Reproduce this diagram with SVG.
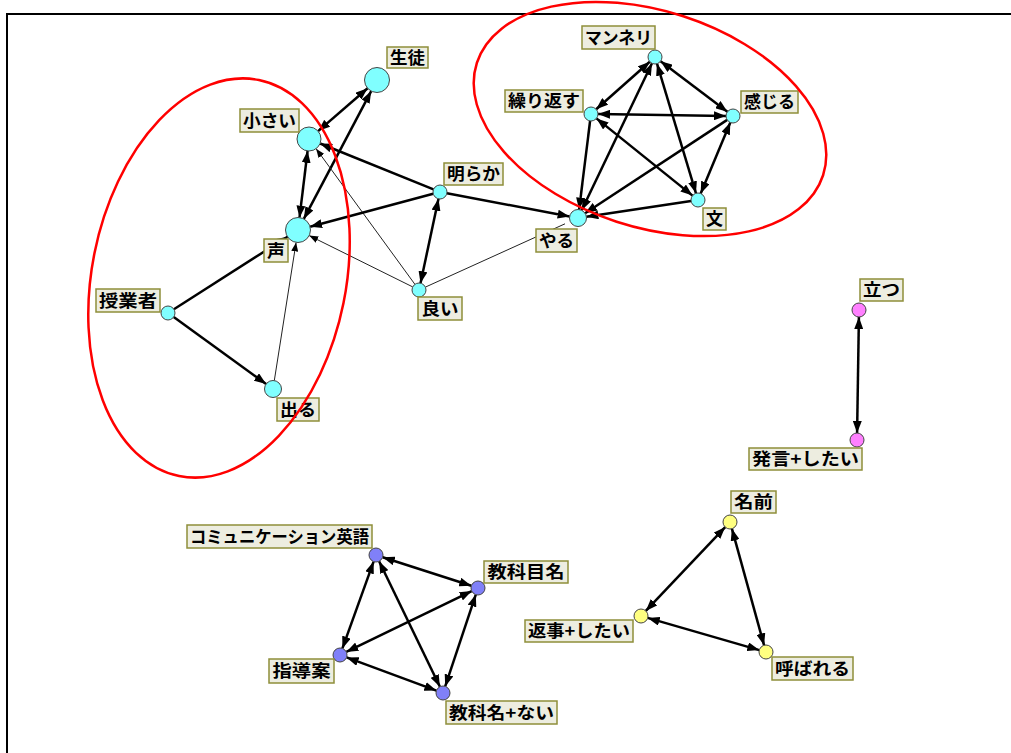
<svg xmlns="http://www.w3.org/2000/svg" width="1011" height="753" viewBox="0 0 1011 753">
<style>
.frame{fill:none;stroke:#000;stroke-width:2}
.e{stroke:#000;fill:none}
.tk{stroke-width:2.5}
.tn{stroke-width:1;stroke:#222}
.n{stroke:#444;stroke-width:1}
.cy{fill:#80FFFF}
.pk{fill:#FF80FF}
.bl{fill:#8080F8}
.yl{fill:#FFFF80}
.lb rect{fill:#EDEDE0;stroke:#8E8E3A;stroke-width:1.5}
.lb text{font-family:"Noto Sans CJK JP","Noto Sans CJK SC",sans-serif;font-size:17px;fill:#000;text-anchor:middle;font-weight:700}
.red{fill:none;stroke:#FF0000;stroke-width:2.5}
</style>
<defs>
<marker id="ah" markerUnits="userSpaceOnUse" markerWidth="12" markerHeight="9" refX="12" refY="4.5" orient="auto-start-reverse"><path d="M0,0 L12,4.5 L0,9 z" fill="#000"/></marker>
<marker id="as" markerUnits="userSpaceOnUse" markerWidth="9" markerHeight="7" refX="9" refY="3.5" orient="auto-start-reverse"><path d="M0,0 L9,3.5 L0,7 z" fill="#000"/></marker>
</defs>
<rect width="1011" height="753" fill="#fff"/>
<path class="frame" d="M7,753 V14 H1011"/>
<g id="connectors">
<line class="e tk" x1="318.1" y1="131.1" x2="367.6" y2="88.2" marker-start="url(#ah)" marker-end="url(#ah)"/>
<line class="e tk" x1="303.8" y1="218.9" x2="371.2" y2="91.1" marker-start="url(#ah)" marker-end="url(#ah)"/>
<line class="e tk" x1="307.6" y1="150.9" x2="299.5" y2="217.6" marker-start="url(#ah)" marker-end="url(#ah)"/>
<line class="e tk" x1="433.5" y1="189.4" x2="320.1" y2="143.5" marker-end="url(#ah)"/>
<line class="e tn" x1="414.9" y1="284.3" x2="316.1" y2="148.7" marker-end="url(#as)"/>
<line class="e tk" x1="433.2" y1="193.8" x2="310.1" y2="226.8" marker-end="url(#ah)"/>
<line class="e tn" x1="412.7" y1="286.9" x2="309.2" y2="235.6" marker-end="url(#as)"/>
<line class="e tn" x1="274.3" y1="380.6" x2="296.1" y2="242.4" marker-end="url(#as)"/>
<line class="e tk" x1="173.9" y1="309.2" x2="287.5" y2="236.7" marker-end="url(#ah)"/>
<line class="e tk" x1="173.7" y1="317.1" x2="266.1" y2="384" marker-end="url(#ah)"/>
<line class="e tk" x1="438.5" y1="198.8" x2="420.5" y2="283.2" marker-start="url(#ah)" marker-end="url(#ah)"/>
<line class="e tk" x1="446.9" y1="193.3" x2="569.6" y2="216.4" marker-end="url(#ah)"/>
<line class="e tn" x1="425.4" y1="287.1" x2="565" y2="223.8"/>
<line class="e tk" x1="649.8" y1="61.7" x2="596.2" y2="109.3" marker-start="url(#ah)" marker-end="url(#ah)"/>
<line class="e tk" x1="660.6" y1="61.2" x2="727.4" y2="111.8" marker-start="url(#ah)" marker-end="url(#ah)"/>
<line class="e tk" x1="657" y1="63.7" x2="696" y2="193.3" marker-start="url(#ah)" marker-end="url(#ah)"/>
<line class="e tk" x1="652" y1="63.3" x2="581.7" y2="210.3" marker-start="url(#ah)" marker-end="url(#ah)"/>
<line class="e tk" x1="598" y1="114.1" x2="726" y2="115.9" marker-start="url(#ah)" marker-end="url(#ah)"/>
<line class="e tk" x1="596.5" y1="118.4" x2="692.5" y2="195.6" marker-start="url(#ah)" marker-end="url(#ah)"/>
<line class="e tk" x1="590.1" y1="120.9" x2="579.1" y2="209.6" marker-end="url(#ah)"/>
<line class="e tk" x1="730.3" y1="122.5" x2="700.7" y2="193.5" marker-start="url(#ah)" marker-end="url(#ah)"/>
<line class="e tk" x1="727.2" y1="119.9" x2="585.1" y2="213.3" marker-end="url(#ah)"/>
<line class="e tk" x1="691.1" y1="201" x2="586.4" y2="216.7" marker-end="url(#ah)"/>
<line class="e tk" x1="858.9" y1="317" x2="857.1" y2="433" marker-start="url(#ah)" marker-end="url(#ah)"/>
<line class="e tk" x1="382.7" y1="557.2" x2="471.3" y2="585.8" marker-start="url(#ah)" marker-end="url(#ah)"/>
<line class="e tk" x1="373.6" y1="561.6" x2="342.4" y2="648.4" marker-start="url(#ah)" marker-end="url(#ah)"/>
<line class="e tk" x1="379.1" y1="561.3" x2="439.9" y2="686.7" marker-start="url(#ah)" marker-end="url(#ah)"/>
<line class="e tk" x1="471.7" y1="591.1" x2="346.3" y2="651.9" marker-start="url(#ah)" marker-end="url(#ah)"/>
<line class="e tk" x1="475.8" y1="594.6" x2="445.2" y2="686.4" marker-start="url(#ah)" marker-end="url(#ah)"/>
<line class="e tk" x1="346.6" y1="657.4" x2="436.4" y2="690.6" marker-start="url(#ah)" marker-end="url(#ah)"/>
<line class="e tk" x1="725.2" y1="527.1" x2="645.8" y2="610.9" marker-start="url(#ah)" marker-end="url(#ah)"/>
<line class="e tk" x1="731.9" y1="528.7" x2="764.1" y2="645.3" marker-start="url(#ah)" marker-end="url(#ah)"/>
<line class="e tk" x1="647.7" y1="617.9" x2="759.3" y2="650.1" marker-start="url(#ah)" marker-end="url(#ah)"/>
</g>
<g id="n-seito"><circle class="n cy" cx="377" cy="80" r="12.5"/><g class="lb"><rect x="387" y="47" width="41" height="21"/><text x="407.5" y="63.5" textLength="35" lengthAdjust="spacingAndGlyphs">生徒</text></g></g>
<g id="n-chiisai"><circle class="n cy" cx="309" cy="139" r="12"/><g class="lb"><rect x="240" y="109" width="59" height="23"/><text x="269.5" y="126.5" textLength="53" lengthAdjust="spacingAndGlyphs">小さい</text></g></g>
<g id="n-koe"><circle class="n cy" cx="298" cy="230" r="12.5"/><g class="lb"><rect x="264" y="239" width="24" height="23"/><text x="276" y="256.5" textLength="18" lengthAdjust="spacingAndGlyphs">声</text></g></g>
<g id="n-jugyosha"><circle class="n cy" cx="168" cy="313" r="7"/><g class="lb"><rect x="96" y="289" width="64" height="23"/><text x="128" y="306.5" textLength="58" lengthAdjust="spacingAndGlyphs">授業者</text></g></g>
<g id="n-deru"><circle class="n cy" cx="273" cy="389" r="8.5"/><g class="lb"><rect x="277" y="398" width="42" height="23"/><text x="298" y="415.5" textLength="36" lengthAdjust="spacingAndGlyphs">出る</text></g></g>
<g id="n-akiraka"><circle class="n cy" cx="440" cy="192" r="7"/><g class="lb"><rect x="444" y="163" width="59" height="22"/><text x="473.5" y="180" textLength="53" lengthAdjust="spacingAndGlyphs">明らか</text></g></g>
<g id="n-yoi"><circle class="n cy" cx="419" cy="290" r="7"/><g class="lb"><rect x="418" y="297" width="44" height="23"/><text x="440" y="314.5" textLength="37" lengthAdjust="spacingAndGlyphs">良い</text></g></g>
<g id="n-yaru"><circle class="n cy" cx="578" cy="218" r="8.5"/><g class="lb"><rect x="536" y="229" width="41" height="23"/><text x="556.5" y="246.5" textLength="35" lengthAdjust="spacingAndGlyphs">やる</text></g></g>
<g id="n-manneri"><circle class="n cy" cx="655" cy="57" r="7"/><g class="lb"><rect x="582" y="26" width="73" height="23"/><text x="618.5" y="43.5" textLength="67" lengthAdjust="spacingAndGlyphs">マンネリ</text></g></g>
<g id="n-kurikaesu"><circle class="n cy" cx="591" cy="114" r="7"/><g class="lb"><rect x="505" y="90" width="78" height="22"/><text x="544" y="107" textLength="72" lengthAdjust="spacingAndGlyphs">繰り返す</text></g></g>
<g id="n-kanjiru"><circle class="n cy" cx="733" cy="116" r="7"/><g class="lb"><rect x="741" y="91" width="57" height="22"/><text x="769.5" y="108" textLength="51" lengthAdjust="spacingAndGlyphs">感じる</text></g></g>
<g id="n-bun"><circle class="n cy" cx="698" cy="200" r="7"/><g class="lb"><rect x="703" y="208" width="23" height="22"/><text x="714.5" y="225" textLength="17" lengthAdjust="spacingAndGlyphs">文</text></g></g>
<g id="n-tatsu"><circle class="n pk" cx="859" cy="310" r="7"/><g class="lb"><rect x="860" y="279" width="43" height="22"/><text x="881.5" y="296" textLength="37" lengthAdjust="spacingAndGlyphs">立つ</text></g></g>
<g id="n-hatsugen"><circle class="n pk" cx="857" cy="440" r="7"/><g class="lb"><rect x="749" y="448" width="113" height="22"/><text x="805.5" y="465" textLength="107" lengthAdjust="spacingAndGlyphs">発言+したい</text></g></g>
<g id="n-comm"><circle class="n bl" cx="376" cy="555" r="7"/><g class="lb"><rect x="187" y="525" width="185" height="23"/><text x="279.5" y="542.5" textLength="179" lengthAdjust="spacingAndGlyphs">コミュニケーション英語</text></g></g>
<g id="n-kyoukamokumei"><circle class="n bl" cx="478" cy="588" r="7"/><g class="lb"><rect x="484" y="561" width="84" height="22"/><text x="526" y="578" textLength="77" lengthAdjust="spacingAndGlyphs">教科目名</text></g></g>
<g id="n-shidouan"><circle class="n bl" cx="340" cy="655" r="7"/><g class="lb"><rect x="269" y="659" width="65" height="24"/><text x="301.5" y="677" textLength="58" lengthAdjust="spacingAndGlyphs">指導案</text></g></g>
<g id="n-kyoukamei"><circle class="n bl" cx="443" cy="693" r="7"/><g class="lb"><rect x="446" y="701" width="111" height="23"/><text x="501.5" y="718.5" textLength="105" lengthAdjust="spacingAndGlyphs">教科名+ない</text></g></g>
<g id="n-namae"><circle class="n yl" cx="730" cy="522" r="7"/><g class="lb"><rect x="731" y="491" width="45" height="22"/><text x="753.5" y="508" textLength="39" lengthAdjust="spacingAndGlyphs">名前</text></g></g>
<g id="n-henji"><circle class="n yl" cx="641" cy="616" r="7"/><g class="lb"><rect x="525" y="620" width="108" height="22"/><text x="579" y="637" textLength="102" lengthAdjust="spacingAndGlyphs">返事+したい</text></g></g>
<g id="n-yobareru"><circle class="n yl" cx="766" cy="652" r="7"/><g class="lb"><rect x="772" y="657" width="81" height="23"/><text x="812.5" y="674.5" textLength="75" lengthAdjust="spacingAndGlyphs">呼ばれる</text></g></g>
<g id="groups">
<ellipse class="red" cx="219" cy="278" rx="127" ry="202" transform="rotate(11.4 219 278)"/>
<ellipse class="red" cx="650" cy="119" rx="182" ry="108" transform="rotate(18 650 119)"/>
</g>
</svg>
